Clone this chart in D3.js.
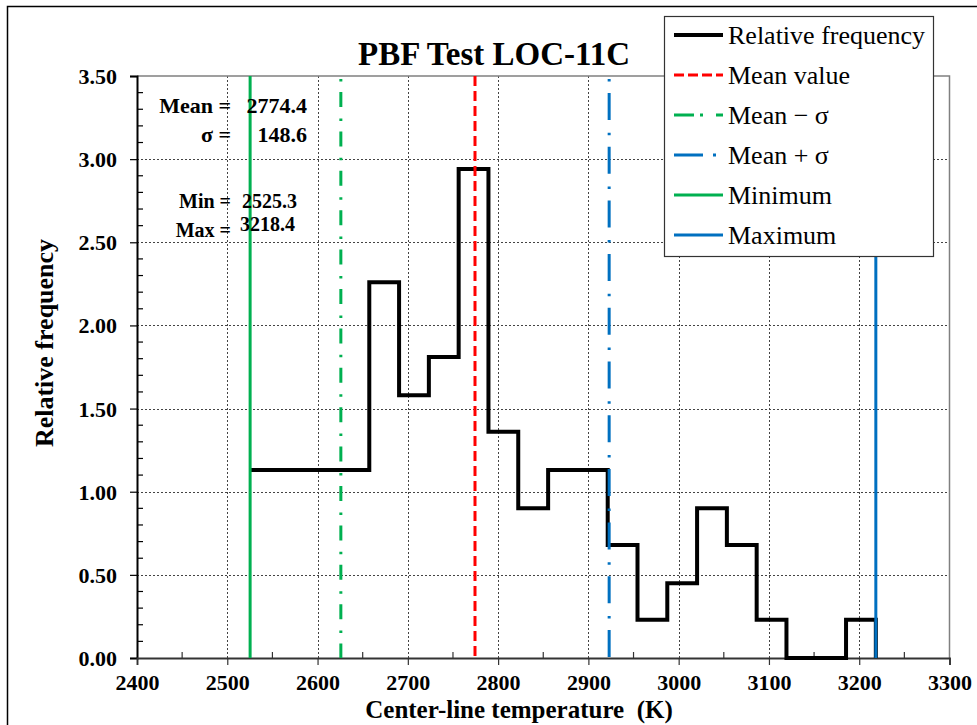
<!DOCTYPE html>
<html>
<head>
<meta charset="utf-8">
<script src="https://cdn.jsdelivr.net/npm/d3@7"></script>
<style>
  html, body { margin: 0; padding: 0; background: #fff; }
  svg { display: block; }
  svg text { font-family: "Liberation Serif", "DejaVu Serif", serif !important; fill: #000; }
</style>
</head>
<body>
<svg id="chart" width="977" height="725"></svg>
<script>
// Histogram of center-line temperature, PBF Test LOC-11C
const binEdges = [2525.3, 2558.3, 2591.3, 2624.3, 2657.3, 2690.3, 2723.3, 2756.3,
                  2789.3, 2822.3, 2855.4, 2888.4, 2921.4, 2954.4, 2987.4, 3020.4,
                  3053.4, 3086.4, 3119.4, 3152.4, 3185.4, 3218.4];
const relFreq = [1.13, 1.13, 1.13, 1.13, 2.26, 1.58, 1.81, 2.94, 1.36, 0.90, 1.13,
                 1.13, 0.68, 0.23, 0.45, 0.90, 0.68, 0.23, 0.00, 0.00, 0.23];

const meanValue = 2774.4;
const sigmaValue = 148.6;
const minValue = 2525.3;
const maxValue = 3218.4;

const xTicks = [2400, 2500, 2600, 2700, 2800, 2900, 3000, 3100, 3200, 3300];
const yTicks = [0, 0.5, 1.0, 1.5, 2.0, 2.5, 3.0, 3.5];

const titleText = "PBF Test LOC-11C";
const xTitle = "Center-line temperature\u00a0\u00a0(K)";
const yTitle = "Relative frequency";

const SERIF = '"Liberation Serif", "DejaVu Serif", serif';

const svg = d3.select("#chart");

const plot = { left: 137, right: 949.5, top: 76, bottom: 658 };
const x = d3.scaleLinear().domain([2400, 3300]).range([plot.left, plot.right]);
const y = d3.scaleLinear().domain([0, 3.5]).range([plot.bottom, plot.top]);

// outer chart frame
svg.append("rect")
  .attr("x", 7.5).attr("y", 6.5).attr("width", 1000).attr("height", 1000)
  .attr("fill", "none").attr("stroke", "#000").attr("stroke-width", 1.5);

// gridlines
const grid = svg.append("g")
  .attr("stroke", "#444").attr("stroke-width", 1).attr("stroke-dasharray", "2,2");
grid.selectAll("line.v").data(xTicks.filter(t => t > 2400 && t < 3300)).join("line")
  .attr("class", "v")
  .attr("x1", d => Math.round(x(d)) + 0.5).attr("x2", d => Math.round(x(d)) + 0.5)
  .attr("y1", plot.top).attr("y2", plot.bottom);
grid.selectAll("line.h").data(yTicks.filter(t => t > 0 && t < 3.5)).join("line")
  .attr("class", "h")
  .attr("x1", plot.left).attr("x2", plot.right)
  .attr("y1", d => Math.round(y(d)) + 0.5).attr("y2", d => Math.round(y(d)) + 0.5);

// plot area border (top and right)
svg.append("path")
  .attr("d", `M${plot.left},${plot.top}H${plot.right}V${plot.bottom}`)
  .attr("fill", "none").attr("stroke", "#808080").attr("stroke-width", 1.5);

// y axis: major ticks outside, minor ticks inside
const yAxis = d3.axisLeft(y).tickValues(yTicks).tickSize(7).tickPadding(13)
  .tickFormat(d => d.toFixed(2));
const gy = svg.append("g").attr("transform", `translate(${plot.left},0)`).call(yAxis)
  .attr("font-family", SERIF);
gy.select(".domain").attr("stroke", "#000").attr("stroke-width", 2);
gy.selectAll(".tick line").attr("stroke", "#000").attr("stroke-width", 1.2);
gy.selectAll(".tick text")
  .style("font-family", SERIF).style("font-weight", "bold")
  .style("font-size", "22px").attr("dy", "0.34em");

const yMinor = d3.range(0, 36).map(i => i / 10).filter(v => Math.abs(v * 2 - Math.round(v * 2)) > 1e-6);
svg.append("g").selectAll("line").data(yMinor).join("line")
  .attr("x1", plot.left).attr("x2", plot.left + 6)
  .attr("y1", d => y(d)).attr("y2", d => y(d))
  .attr("stroke", "#000").attr("stroke-width", 1.2);

// x axis
const xAxis = d3.axisBottom(x).tickValues(xTicks).tickSize(7).tickPadding(9)
  .tickFormat(d3.format("d"));
const gx = svg.append("g").attr("transform", `translate(0,${plot.bottom})`).call(xAxis)
  .attr("font-family", SERIF);
gx.select(".domain").attr("stroke", "#333").attr("stroke-width", 1.8);
gx.selectAll(".tick line").attr("stroke", "#333").attr("stroke-width", 1.2);
gx.selectAll(".tick text")
  .style("font-family", SERIF).style("font-weight", "bold")
  .style("font-size", "22px");

const xMinor = xTicks.slice(0, -1).map(t => t + 50);
svg.append("g").selectAll("line").data(xMinor).join("line")
  .attr("x1", d => x(d)).attr("x2", d => x(d))
  .attr("y1", plot.bottom).attr("y2", plot.bottom - 6)
  .attr("stroke", "#333").attr("stroke-width", 1.2);

// histogram outline drawn as a step line
const stepPts = relFreq.map((v, i) => [binEdges[i], v]);
stepPts.push([binEdges[binEdges.length - 1], relFreq[relFreq.length - 1]]);
stepPts.push([binEdges[binEdges.length - 1], 0]);
const stepLine = d3.line().x(d => x(d[0])).y(d => y(d[1])).curve(d3.curveStepAfter);
svg.append("path")
  .datum(stepPts)
  .attr("d", stepLine)
  .attr("fill", "none").attr("stroke", "#000").attr("stroke-width", 4)
  .attr("stroke-linejoin", "miter");

// reference lines
const refLines = [
  { name: "Mean value", value: meanValue, color: "#ff0000", width: 3, dash: "10,5", offset: 0, legendDash: "10,4" },
  { name: "Mean \u2212 \u03c3", value: meanValue - sigmaValue, color: "#00b050", width: 3, dash: "2.5,10.5,15,11.4", offset: -3, legendDash: "20,6,3,13" },
  { name: "Mean + \u03c3", value: meanValue + sigmaValue, color: "#0070c0", width: 3, dash: "2.5,11.5,27,12.7", offset: -3, legendDash: "29,10,3,20" },
  { name: "Minimum", value: minValue, color: "#00b050", width: 3, dash: null, offset: 0, legendDash: null },
  { name: "Maximum", value: maxValue, color: "#0070c0", width: 3, dash: null, offset: 0, legendDash: null }
];

svg.append("g").selectAll("line").data(refLines).join("line")
  .attr("x1", d => x(d.value)).attr("x2", d => x(d.value))
  .attr("y1", y(3.5)).attr("y2", y(0))
  .attr("stroke", d => d.color).attr("stroke-width", d => d.width)
  .attr("stroke-dasharray", d => d.dash)
  .attr("stroke-dashoffset", d => d.offset);

// statistics annotation
const annot = svg.append("g").style("font-family", SERIF).style("font-weight", "bold");
const statRows = [
  { label: "Mean =", value: meanValue.toFixed(1), ly: 113, vx: 307, vy: 113, anchor: "end", size: 22 },
  { label: "\u03c3 =", value: sigmaValue.toFixed(1), ly: 142, vx: 307, vy: 142, anchor: "end", size: 22 },
  { label: "Min =", value: minValue.toFixed(1), ly: 208, vx: 242, vy: 208, anchor: "start", size: 20 },
  { label: "Max =", value: maxValue.toFixed(1), ly: 237, vx: 240, vy: 231, anchor: "start", size: 20 }
];
statRows.forEach(r => {
  annot.append("text").attr("x", 231).attr("y", r.ly).attr("text-anchor", "end")
    .style("font-size", r.size + "px").text(r.label);
  annot.append("text").attr("x", r.vx).attr("y", r.vy).attr("text-anchor", r.anchor)
    .style("font-size", r.size + "px").text(r.value);
});

// title and axis titles
svg.append("text").attr("x", 494).attr("y", 65).attr("text-anchor", "middle")
  .style("font-family", SERIF).style("font-weight", "bold").style("font-size", "33px")
  .text(titleText);
svg.append("text").attr("x", 519).attr("y", 718).attr("text-anchor", "middle")
  .style("font-family", SERIF).style("font-weight", "bold").style("font-size", "25px")
  .text(xTitle);
svg.append("text").attr("transform", "translate(53,343) rotate(-90)")
  .attr("text-anchor", "middle")
  .style("font-family", SERIF).style("font-weight", "bold").style("font-size", "26px")
  .text(yTitle);

// legend
const legendItems = [
  { name: "Relative frequency", color: "#000", width: 4, legendDash: null },
  ...refLines
];
const lg = svg.append("g");
lg.append("rect").attr("x", 664.5).attr("y", 16.5).attr("width", 269).attr("height", 240)
  .attr("fill", "#fff").attr("stroke", "#333").attr("stroke-width", 1.2);
const rowY = d3.scalePoint().domain(legendItems.map(d => d.name)).range([35, 235]);
const rows = lg.selectAll("g.row").data(legendItems).join("g").attr("class", "row")
  .attr("transform", d => `translate(0,${rowY(d.name)})`);
rows.append("line").attr("x1", 674).attr("x2", 723).attr("y1", 0).attr("y2", 0)
  .attr("stroke", d => d.color).attr("stroke-width", d => d.width)
  .attr("stroke-dasharray", d => d.legendDash);
rows.append("text").attr("x", 728).attr("y", 9)
  .style("font-family", SERIF).style("font-size", "26px").text(d => d.name);
</script>
</body>
</html>
